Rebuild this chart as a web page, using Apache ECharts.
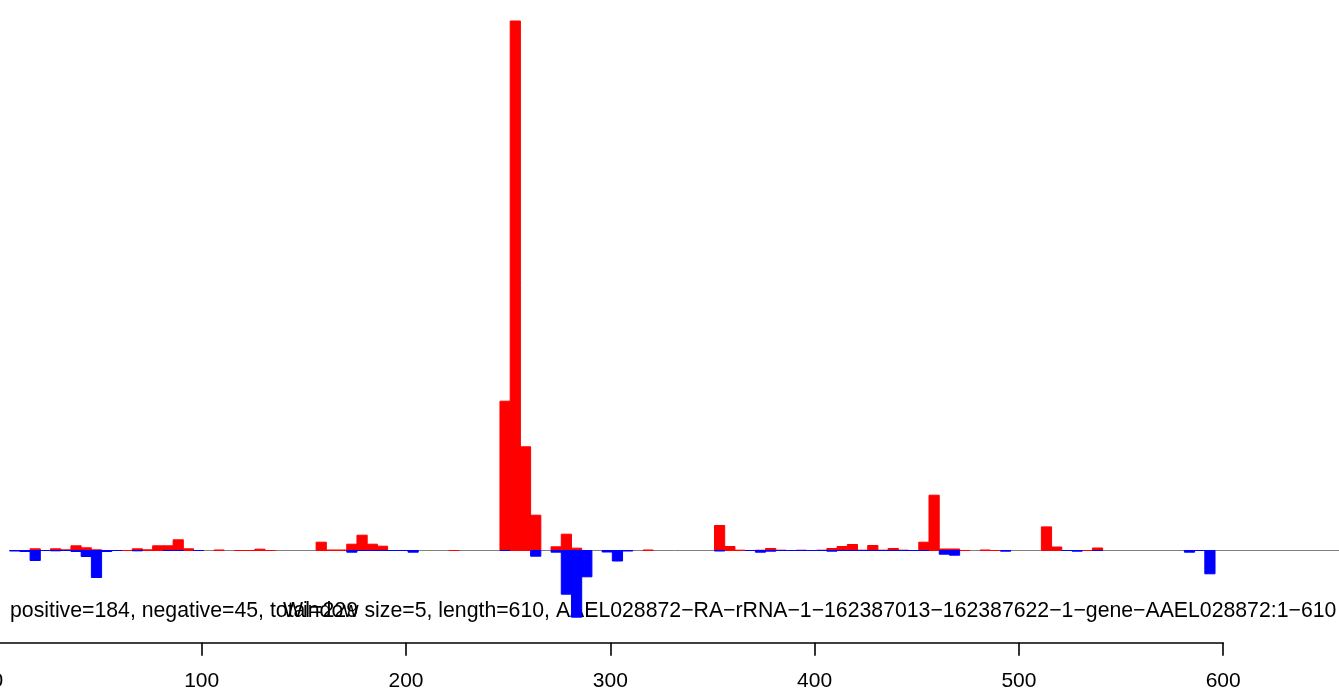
<!DOCTYPE html>
<html>
<head>
<meta charset="utf-8">
<script src="https://cdn.jsdelivr.net/npm/echarts@6/dist/echarts.min.js"></script>
<style>
html,body{margin:0;padding:0;background:#fff;}
#chart{width:1339px;height:688px;}
</style>
</head>
<body>
<div id="chart"></div>
<script>
// ---- data (arbitrary height units) ----
const windowSize = 5;
const geneLength = 610;
const positiveStarts = [16,26,31,36,41,46,61,66,71,76,81,86,91,106,116,121,126,131,156,161,166,171,176,181,186,221,
  246,251,256,261,271,276,281,296,316,351,356,361,371,376,381,386,391,401,406,411,416,421,426,431,436,441,451,456,461,466,471,481,486,511,516,531,536];
const positiveValues = [1.7,1.7,0.7,4.7,2.7,0.7,0,1.7,0.7,4.7,4.7,10.7,1.7,0.5,0,0,1.3,0,8.3,0.5,0.5,6.3,15.3,6.3,4.3,0,
  149.3,529.5,103.7,35.3,3.7,16.3,2.3,0,0.5,25,4,0.3,0.3,2,0.3,0,0.3,0.3,2,4,6,0.3,5,0.3,2,0.3,8.3,55.3,1.5,1.5,0,0.5,0,23.6,3.5,0,2.5];
const negativeStarts = [6,11,16,21,26,31,36,41,46,51,56,66,81,86,96,171,176,181,186,191,196,201,246,261,271,276,281,286,296,301,306,
  351,366,371,376,381,386,391,396,401,406,411,416,421,426,431,436,441,446,451,461,466,491,521,526,536,581,586,591];
const negativeValues = [-0.5,-1,-10,0,-0.3,0,-1,-6,-27,-1,0,-0.3,0,0,0,-1.7,0,0,0,0,0,-1.7,0,-5.7,-1.7,-43.7,-66.7,-26.3,-1.5,-10.5,-0.5,
  -0.5,0,-1.7,-0.7,0,0,0,0,0,-0.7,0,0,0,0,0,0,0,0,0,-3.7,-4.7,-0.7,0,-0.7,0,-1.7,0,-23.3];
const xTicks = [0,100,200,300,400,500,600];
const summaryText = 'positive=184, negative=45, total=229';
const titleText = 'Window size=5, length=610, AAEL028872\u2212RA\u2212rRNA\u22121\u2212162387013\u2212162387622\u22121\u2212gene\u2212AAEL028872:1\u2212610';

const posData = positiveStarts.map((s, i) => [s, positiveValues[i]]);
const negData = negativeStarts.map((s, i) => [s, negativeValues[i]]);

function barRenderer(color) {
  return function (params, api) {
    const s = api.value(0), v = api.value(1);
    const p0 = api.coord([s, 0]);
    const p1 = api.coord([s + windowSize, v]);
    return {
      type: 'rect',
      shape: { x: p0[0], y: Math.min(p0[1], p1[1]), width: p1[0] - p0[0], height: Math.abs(p1[1] - p0[1]) },
      style: { fill: color, stroke: color, lineWidth: 1 }
    };
  };
}

const pxPerUnit = 2.043;
const x0 = -2.6;
const FONT = '"Liberation Sans", Arial, Helvetica, sans-serif';

const chart = echarts.init(document.getElementById('chart'), null, { renderer: 'canvas' });
chart.setOption({
  animation: false,
  backgroundColor: '#ffffff',
  grid: [
    { left: x0, top: 20, width: 1339 - x0, height: 630.5, outerBoundsMode: 'none', containLabel: false },
    { left: x0, top: 600, width: 600 * pxPerUnit, height: 42.8, outerBoundsMode: 'none', containLabel: false }
  ],
  xAxis: [
    { gridIndex: 0, type: 'value', min: 0, max: (1339 - x0) / pxPerUnit, show: false },
    { gridIndex: 1, type: 'value', min: 0, max: 600, interval: 100,
      axisLine: { show: true, lineStyle: { color: '#000', width: 1.6 } },
      axisTick: { show: true, length: 13, inside: false, lineStyle: { color: '#000', width: 1.6 } },
      axisLabel: { show: true, margin: 27.5, fontSize: 21, color: '#000', fontFamily: FONT,
        showMinLabel: true, showMaxLabel: true },
      splitLine: { show: false } }
  ],
  yAxis: [
    { gridIndex: 0, type: 'value', min: -100, max: 530.5, show: false },
    { gridIndex: 1, type: 'value', min: 0, max: 1, show: false }
  ],
  series: [
    { type: 'line', xAxisIndex: 0, yAxisIndex: 0, data: [[6, 0], [(1339 - x0) / pxPerUnit, 0]],
      symbol: 'none', lineStyle: { color: '#808080', width: 1 }, z: 1, silent: true },
    { type: 'custom', xAxisIndex: 0, yAxisIndex: 0, data: posData, renderItem: barRenderer('#ff0000'), z: 2 },
    { type: 'custom', xAxisIndex: 0, yAxisIndex: 0, data: negData, renderItem: barRenderer('#0000ff'), z: 3 }
  ],
  graphic: [
    { type: 'text', x: 10, y: 611, style: { text: summaryText, fontSize: 21.25, fontFamily: FONT, fill: '#000', align: 'left', verticalAlign: 'middle' } },
    { type: 'text', x: 283, y: 611, style: { text: titleText, fontSize: 21.25, fontFamily: FONT, fill: '#000', align: 'left', verticalAlign: 'middle' } }
  ]
});
</script>
</body>
</html>
